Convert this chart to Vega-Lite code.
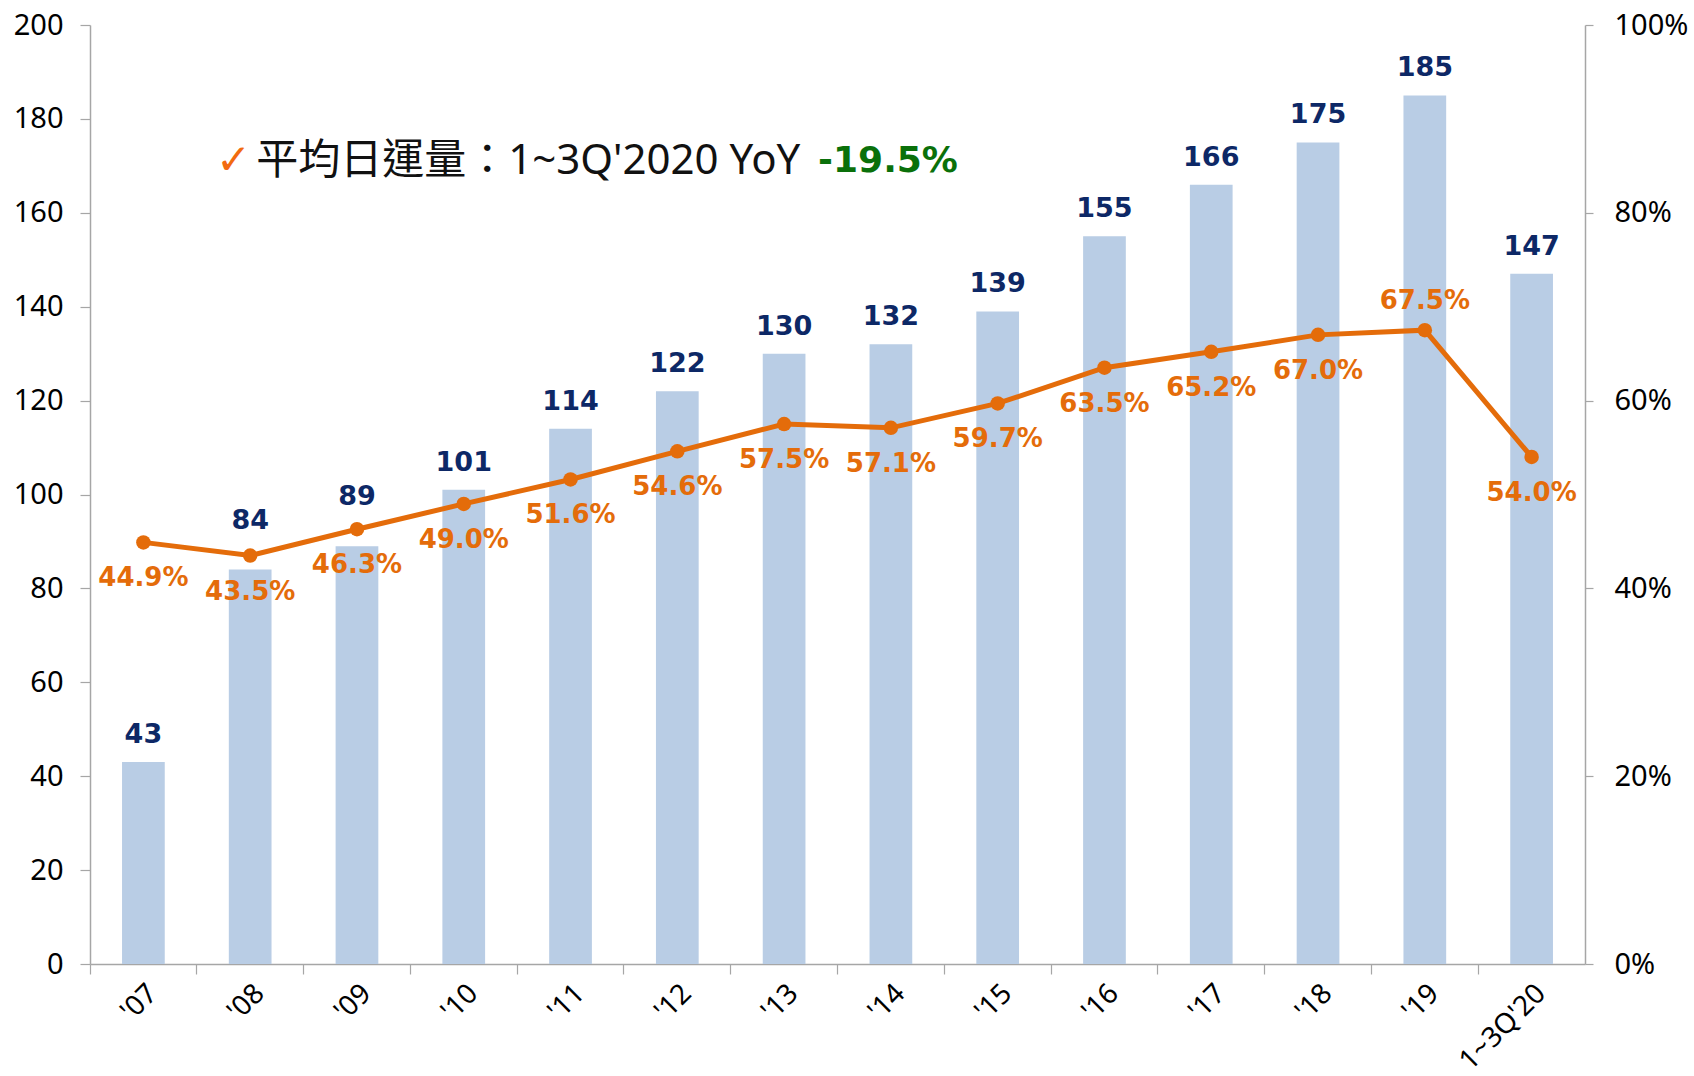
{
  "$schema": "https://vega.github.io/schema/vega-lite/v6.json",
  "width": 1495,
  "height": 939,
  "autosize": {"type": "none"},
  "padding": {"left": 90, "top": 25, "right": 109, "bottom": 112},
  "background": "white",
  "config": {"view": {"stroke": null}, "font": "Noto Sans"},
  "datasets": {
    "main": [
      {"cat": "'07", "vol": 43, "pct": 0.449},
      {"cat": "'08", "vol": 84, "pct": 0.435},
      {"cat": "'09", "vol": 89, "pct": 0.463},
      {"cat": "'10", "vol": 101, "pct": 0.490},
      {"cat": "'11", "vol": 114, "pct": 0.516},
      {"cat": "'12", "vol": 122, "pct": 0.546},
      {"cat": "'13", "vol": 130, "pct": 0.575},
      {"cat": "'14", "vol": 132, "pct": 0.571},
      {"cat": "'15", "vol": 139, "pct": 0.597},
      {"cat": "'16", "vol": 155, "pct": 0.635},
      {"cat": "'17", "vol": 166, "pct": 0.652},
      {"cat": "'18", "vol": 175, "pct": 0.670},
      {"cat": "'19", "vol": 185, "pct": 0.675},
      {"cat": "1~3Q'20", "vol": 147, "pct": 0.540}
    ],
    "note": [
      {"cat": "'08", "vol": 171, "part": "check", "text": "✓"},
      {"cat": "'08", "vol": 171, "part": "main", "text": "平均日運量：1~3Q'2020 YoY"},
      {"cat": "'13", "vol": 171, "part": "yoy", "text": "-19.5%"}
    ]
  },
  "data": {"name": "main"},
  "layer": [
    {
      "encoding": {
        "x": {"field": "cat", "type": "nominal", "sort": null,
          "scale": {"domain": ["'07","'08","'09","'10","'11","'12","'13","'14","'15","'16","'17","'18","'19","1~3Q'20"], "paddingInner": 0, "paddingOuter": 0},
          "axis": {"orient": "bottom", "bandPosition": 0, "labels": false, "tickSize": 10, "tickColor": "#A6A6A6", "domainColor": "#A6A6A6", "domainWidth": 1.5, "tickWidth": 1.2, "title": null}},
        "y": {"field": "vol", "type": "quantitative",
          "scale": {"domain": [0, 200], "nice": false},
          "axis": {"orient": "left", "values": [0,20,40,60,80,100,120,140,160,180,200], "grid": false, "tickSize": 10, "tickColor": "#A6A6A6", "tickWidth": 1.2, "domainColor": "#A6A6A6", "domainWidth": 1.5, "labelFontSize": 29, "labelPadding": 17, "labelColor": "#000000", "title": null}}
      },
      "layer": [
        {
          "mark": {"type": "bar", "color": "#B9CDE5", "width": {"band": 0.4}}
        },
        {
          "transform": [{"filter": "datum.cat !== \"'08\" && datum.cat !== \"'09\""}],
          "mark": {"type": "text", "font": "DejaVu Sans", "fontWeight": "bold", "fontSize": 27, "color": "#0D2866", "baseline": "middle", "dy": -27},
          "encoding": {
            "text": {"field": "vol", "type": "quantitative"}
          }
        },
        {
          "transform": [{"filter": "datum.cat === \"'08\" || datum.cat === \"'09\""}],
          "mark": {"type": "text", "font": "DejaVu Sans", "fontWeight": "bold", "fontSize": 27, "color": "#0D2866", "baseline": "middle", "dy": -49},
          "encoding": {
            "text": {"field": "vol", "type": "quantitative"}
          }
        },
        {
          "data": {"name": "note"},
          "transform": [{"filter": "datum.part === 'check'"}],
          "mark": {"type": "text", "font": "DejaVu Sans", "fontSize": 42, "fontWeight": "bold", "color": "#F26B0F", "align": "right", "baseline": "middle", "dx": 1},
          "encoding": {
            "text": {"field": "text"}
          }
        },
        {
          "data": {"name": "note"},
          "transform": [{"filter": "datum.part === 'main'"}],
          "mark": {"type": "text", "font": "Noto Sans, Noto Sans CJK TC", "fontSize": 42, "color": "#111111", "align": "left", "baseline": "middle", "dx": 6},
          "encoding": {
            "text": {"field": "text"}
          }
        },
        {
          "data": {"name": "note"},
          "transform": [{"filter": "datum.part === 'yoy'"}],
          "mark": {"type": "text", "font": "DejaVu Sans", "fontWeight": "bold", "fontSize": 36, "color": "#0A700A", "align": "left", "baseline": "middle", "dx": 34},
          "encoding": {
            "text": {"field": "text"}
          }
        }
      ]
    },
    {
      "encoding": {
        "x": {"field": "cat", "type": "nominal", "sort": null,
          "axis": {"orient": "bottom", "ticks": false, "domain": false, "labelAngle": -45, "labelFontSize": 28, "labelPadding": 15, "labelColor": "#000000", "title": null}},
        "y": {"field": "pct", "type": "quantitative",
          "scale": {"domain": [0, 1], "nice": false},
          "axis": {"orient": "right", "values": [0,0.2,0.4,0.6,0.8,1], "format": ".0%", "grid": false, "tickSize": 8, "tickColor": "#A6A6A6", "tickWidth": 1.2, "domainColor": "#A6A6A6", "domainWidth": 1.5, "labelFontSize": 29, "labelPadding": 21, "labelColor": "#000000", "title": null}}
      },
      "layer": [
        {
          "mark": {"type": "line", "color": "#E46C0A", "strokeWidth": 5}
        },
        {
          "mark": {"type": "point", "filled": true, "opacity": 1, "color": "#E46C0A", "size": 210}
        },
        {
          "transform": [{"filter": "datum.cat !== \"'19\""}],
          "mark": {"type": "text", "font": "DejaVu Sans", "fontWeight": "bold", "fontSize": 26, "color": "#E46C0A", "baseline": "middle", "dy": 36},
          "encoding": {
            "text": {"field": "pct", "type": "quantitative", "format": ".1%"}
          }
        },
        {
          "transform": [{"filter": "datum.cat === \"'19\""}],
          "mark": {"type": "text", "font": "DejaVu Sans", "fontWeight": "bold", "fontSize": 26, "color": "#E46C0A", "baseline": "middle", "dy": -29},
          "encoding": {
            "text": {"field": "pct", "type": "quantitative", "format": ".1%"}
          }
        }
      ]
    }
  ],
  "resolve": {"scale": {"y": "independent"}, "axis": {"x": "independent"}}
}
